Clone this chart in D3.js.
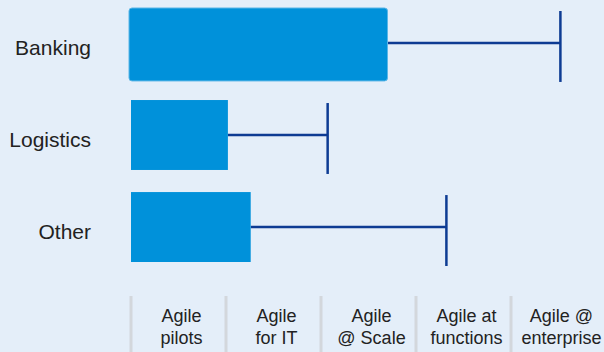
<!DOCTYPE html>
<html>
<head>
<meta charset="utf-8">
<script src="https://cdn.jsdelivr.net/npm/d3@7"></script>
<style>
  html, body { margin: 0; padding: 0; background: #e4eef9; }
  svg { display: block; }
  text { font-family: "Liberation Sans", Arial, sans-serif; fill: #222; }
</style>
</head>
<body>
<div id="chart"></div>
<script>
// data
const sectors = ["Banking", "Logistics", "Other"];
const current = [2.7, 1.02, 1.26];   // bar end, in stages
const target = [4.52, 2.07, 3.32];   // whisker end, in stages
const stages = ["Agile|pilots", "Agile|for IT", "Agile|@ Scale", "Agile at|functions", "Agile @|enterprise"];

const width = 604;
const height = 352;

const svg = d3.select("#chart").append("svg")
  .attr("width", width)
  .attr("height", height);

svg.append("rect")
  .attr("width", width)
  .attr("height", height)
  .attr("fill", "#e4eef9");

// scales
const x = d3.scaleLinear()
  .domain([0, stages.length])
  .range([131, 606]);

const y = d3.scaleBand()
  .domain(sectors)
  .range([8, 262])
  .paddingInner(0.24)
  .paddingOuter(0);

const rows = sectors.map((s, i) => ({ name: s, cur: current[i], tgt: target[i] }));

// whiskers
svg.selectAll(".whisker")
  .data(rows)
  .enter().append("line")
  .attr("class", "whisker")
  .attr("x1", d => x(d.cur))
  .attr("x2", d => x(d.tgt))
  .attr("y1", d => y(d.name) + y.bandwidth() / 2)
  .attr("y2", d => y(d.name) + y.bandwidth() / 2)
  .attr("stroke", "#0d3b93")
  .attr("stroke-width", 2.5);

svg.selectAll(".cap")
  .data(rows)
  .enter().append("line")
  .attr("class", "cap")
  .attr("x1", d => x(d.tgt))
  .attr("x2", d => x(d.tgt))
  .attr("y1", d => y(d.name) + 3)
  .attr("y2", d => y(d.name) + y.bandwidth() + 4)
  .attr("stroke", "#0d3b93")
  .attr("stroke-width", 2.5);

// bars
svg.selectAll(".bar")
  .data(rows)
  .enter().append("rect")
  .attr("class", "bar")
  .attr("x", (d, i) => x(0) - (i === 0 ? 2 : 0))
  .attr("y", d => y(d.name))
  .attr("width", (d, i) => x(d.cur) - x(0) + (i === 0 ? 2 : 0))
  .attr("height", (d, i) => y.bandwidth() + (i === 0 ? 3 : 0))
  .attr("rx", (d, i) => i === 0 ? 3 : 0)
  .attr("fill", "#0091da")
  .attr("stroke", (d, i) => i === 0 ? "#5bb6e6" : "none")
  .attr("stroke-width", 1);

// sector labels
svg.selectAll(".sector")
  .data(sectors)
  .enter().append("text")
  .attr("class", "sector")
  .attr("x", 91)
  .attr("y", d => y(d) + y.bandwidth() / 2 + 4)
  .attr("dy", "0.36em")
  .attr("text-anchor", "end")
  .style("font-size", "21px")
  .text(d => d);

// stage axis: dividers + two-line labels
const stageW = x(1) - x(0);

svg.selectAll(".divider")
  .data(stages)
  .enter().append("line")
  .attr("class", "divider")
  .attr("x1", (d, i) => x(i))
  .attr("x2", (d, i) => x(i))
  .attr("y1", 296)
  .attr("y2", height)
  .attr("stroke", "#d3d7dc")
  .attr("stroke-width", 3);

const lbl = svg.selectAll(".stage")
  .data(stages)
  .enter().append("text")
  .attr("class", "stage")
  .attr("text-anchor", "middle")
  .style("font-size", "18px");

lbl.selectAll("tspan")
  .data((d, i) => d.split("|").map(t => ({ t, i })))
  .enter().append("tspan")
  .attr("x", d => x(d.i) + stageW / 2 + 3)
  .attr("y", (d, j) => 322 + j * 22)
  .text(d => d.t);
</script>
</body>
</html>
